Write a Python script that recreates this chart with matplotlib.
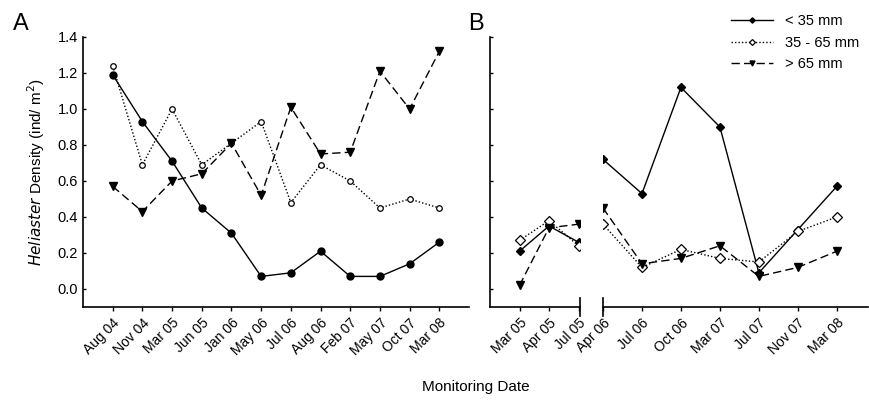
import matplotlib
matplotlib.use("Agg")
import matplotlib.pyplot as plt
import numpy as np

plt.rcParams['font.family'] = ['Liberation Sans', 'DejaVu Sans']

# Panel A data
dates_a = ["Aug 04", "Nov 04", "Mar 05", "Jun 05", "Jan 06", "May 06", "Jul 06",
           "Aug 06", "Feb 07", "May 07", "Oct 07", "Mar 08"]
small_a = [1.19, 0.93, 0.71, 0.45, 0.31, 0.07, 0.09, 0.21, 0.07, 0.07, 0.14, 0.26]
mid_a = [1.24, 0.69, 1.00, 0.69, 0.81, 0.93, 0.48, 0.69, 0.60, 0.45, 0.50, 0.45]
large_a = [0.57, 0.43, 0.60, 0.64, 0.81, 0.52, 1.01, 0.75, 0.76, 1.21, 1.00, 1.32]

# Panel B data (two segments with an axis break)
dates_b1 = ["Mar 05", "Apr 05", "Jul 05"]
small_b1 = [0.21, 0.35, 0.26]
mid_b1 = [0.27, 0.38, 0.24]
large_b1 = [0.02, 0.34, 0.36]

dates_b2 = ["Apr 06", "Jul 06", "Oct 06", "Mar 07", "Jul 07", "Nov 07", "Mar 08"]
small_b2 = [0.72, 0.53, 1.12, 0.90, 0.09, 0.33, 0.57]
mid_b2 = [0.36, 0.12, 0.22, 0.17, 0.15, 0.32, 0.40]
large_b2 = [0.45, 0.14, 0.17, 0.24, 0.07, 0.12, 0.21]

labels = ["< 35 mm", "35 - 65 mm", "> 65 mm"]
yticks = [0.0, 0.2, 0.4, 0.6, 0.8, 1.0, 1.2, 1.4]

fig = plt.figure(figsize=(8.69, 4.01), dpi=100)
bottom = 1 - 307 / 401
height = (307 - 37) / 401
axA = fig.add_axes([83 / 869, bottom, (469 - 83) / 869, height])
axB1 = fig.add_axes([490 / 869, bottom, (580 - 490) / 869, height])
axB2 = fig.add_axes([603 / 869, bottom, (868 - 603) / 869, height])

def style(mark_small, mark_mid, ms_s, ms_m):
    return [
        dict(color='black', lw=1.0, ls='-', marker=mark_small, ms=ms_s, mfc='black', mec='black'),
        dict(color='black', lw=1.0, ls=(0, (1, 1.5)), marker=mark_mid, ms=ms_m, mfc='white', mec='black', mew=0.9),
        dict(color='black', lw=1.0, ls=(0, (6, 3)), marker='v', ms=6, mfc='black', mec='black'),
    ]

def draw(ax, x, series, styles, with_label=False):
    for s, st, lab in zip(series, styles, labels):
        ax.plot(x, s, label=lab if with_label else None, **st)

for ax in (axA, axB1, axB2):
    ax.set_ylim(-0.1, 1.4)
    for sp in ('top', 'right'):
        ax.spines[sp].set_visible(False)
    for sp in ('left', 'bottom'):
        ax.spines[sp].set_linewidth(1.2)
    ax.tick_params(axis='y', direction='in', length=2, width=1)
    ax.tick_params(axis='x', direction='out', length=3, width=1)
    ax.set_yticks(yticks)

tick_fs = 10

# Panel A
xa = np.arange(len(dates_a))
draw(axA, xa, [small_a, mid_a, large_a], style('o', 'o', 5, 4))
axA.set_xlim(-1, 12)
axA.set_xticks(xa)
axA.set_xticklabels(dates_a, rotation=45, ha='right', rotation_mode='anchor', fontsize=tick_fs)
axA.set_yticklabels([f"{v:.1f}" for v in yticks], fontsize=10.5)
axA.set_ylabel(r"$\it{Heliaster}$ Density (ind/ m$^2$)", fontsize=11, labelpad=8)

# Panel B left segment
xb1 = np.arange(len(dates_b1))
draw(axB1, xb1, [small_b1, mid_b1, large_b1], style('D', 'D', 4.5, 5))
axB1.set_xlim(-1, 2.05)
axB1.set_xticks(xb1)
axB1.set_xticklabels(dates_b1, rotation=45, ha='right', rotation_mode='anchor', fontsize=tick_fs)
axB1.set_yticklabels([])

# Panel B right segment
xb2 = np.arange(len(dates_b2))
draw(axB2, xb2, [small_b2, mid_b2, large_b2], style('D', 'D', 4.5, 5), with_label=True)
axB2.set_xlim(0, 6.8)
axB2.set_xticks(xb2)
axB2.set_xticklabels(dates_b2, rotation=45, ha='right', rotation_mode='anchor', fontsize=tick_fs)
axB2.spines['left'].set_visible(False)
axB2.tick_params(axis='y', left=False, labelleft=False)

# Break marks
for ax, xpos in ((axB1, 1.0), (axB2, 0.0)):
    ax.plot([xpos, xpos], [-0.035, 0.035], transform=ax.transAxes, color='black',
            lw=1.2, clip_on=False)

# Legend
leg = axB2.legend(loc='upper left', bbox_to_anchor=(0.46, 1.105), frameon=False,
                  fontsize=10.5, handlelength=2.9, handletextpad=0.8, labelspacing=0.5,
                  markerscale=0.6, borderaxespad=0.0)

# Panel letters and x label
fig.text(21 / 869, 1 - 24 / 401, "A", fontsize=17, ha='center', va='center')
fig.text(476 / 869, 1 - 24 / 401, "B", fontsize=17, ha='center', va='center')
fig.text(476 / 869, 1 - 387 / 401, "Monitoring Date", fontsize=11, ha='center', va='center')

fig.savefig("out.png", dpi=100)
